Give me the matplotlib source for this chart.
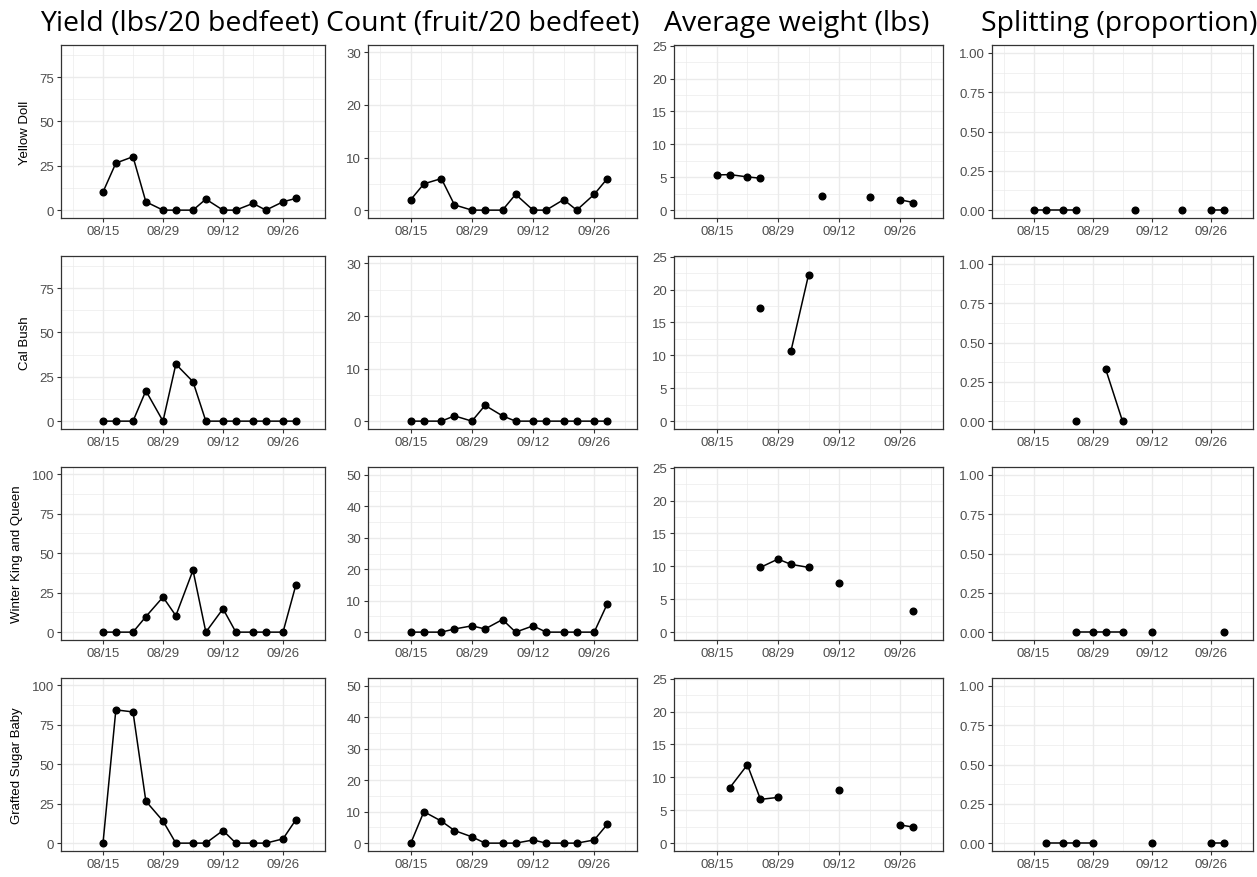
import numpy as np
import matplotlib
matplotlib.use('Agg')
import matplotlib.pyplot as plt
import matplotlib.dates as mdates
from datetime import datetime, timedelta

nan = np.nan

dates = ['2022-08-15', '2022-08-18', '2022-08-22', '2022-08-25', '2022-08-29', '2022-09-01', '2022-09-05',
         '2022-09-08', '2022-09-12', '2022-09-15', '2022-09-19', '2022-09-22', '2022-09-26', '2022-09-29']

varieties = ['Yellow Doll', 'Cal Bush', 'Winter King and Queen', 'Grafted Sugar Baby']
titles = ['Yield (lbs/20 bedfeet)', 'Count (fruit/20 bedfeet)', 'Average weight (lbs)', 'Splitting (proportion)']

# yield (lbs/20 bedfeet)
yield_yd = [10.2, 26.5, 30.1, 4.7, 0, 0, 0, 6.2, 0, 0, 3.8, 0, 4.7, 6.6]
yield_cb = [0, 0, 0, 17.1, 0, 32.1, 22.2, 0, 0, 0, 0, 0, 0, 0]
yield_wkq = [0, 0, 0, 9.8, 22.2, 10.4, 39.2, 0, 14.8, 0, 0, 0, 0, 29.8]
yield_gsb = [0, 84.4, 83.1, 26.6, 14.0, 0, 0, 0, 8.0, 0, 0, 0, 2.7, 14.8]

# count (fruit/20 bedfeet)
count_yd = [2, 5, 6, 1, 0, 0, 0, 3, 0, 0, 2, 0, 3, 6]
count_cb = [0, 0, 0, 1, 0, 3, 1, 0, 0, 0, 0, 0, 0, 0]
count_wkq = [0, 0, 0, 1, 2, 1, 4, 0, 2, 0, 0, 0, 0, 9]
count_gsb = [0, 10, 7, 4, 2, 0, 0, 0, 1, 0, 0, 0, 1, 6]

# average weight (lbs)
wt_yd = [5.35, 5.4, 5.05, 4.85, nan, nan, nan, 2.1, nan, nan, 1.97, nan, 1.57, 1.16]
wt_cb = [nan, nan, nan, 17.15, nan, 10.7, 22.2, nan, nan, nan, nan, nan, nan, nan]
wt_wkq = [nan, nan, nan, 9.84, 11.1, 10.3, 9.84, nan, 7.4, nan, nan, nan, nan, 3.25]
wt_gsb = [nan, 8.44, 11.9, 6.65, 6.95, nan, nan, nan, 8.15, nan, nan, nan, 2.75, 2.45]

# splitting (proportion)
split_yd = [0, 0, 0, 0, nan, nan, nan, 0, nan, nan, 0, nan, 0, 0]
split_cb = [nan, nan, nan, 0, nan, 0.333, 0, nan, nan, nan, nan, nan, nan, nan]
split_wkq = [nan, nan, nan, 0, 0, 0, 0, nan, 0, nan, nan, nan, nan, 0]
split_gsb = [nan, 0, 0, 0, 0, nan, nan, nan, 0, nan, nan, nan, 0, 0]

data = [
    [yield_yd, count_yd, wt_yd, split_yd],
    [yield_cb, count_cb, wt_cb, split_cb],
    [yield_wkq, count_wkq, wt_wkq, split_wkq],
    [yield_gsb, count_gsb, wt_gsb, split_gsb],
]

yticks = [
    [[0, 25, 50, 75], [0, 10, 20, 30], [0, 5, 10, 15, 20, 25], [0, 0.25, 0.5, 0.75, 1.0]],
    [[0, 25, 50, 75], [0, 10, 20, 30], [0, 5, 10, 15, 20, 25], [0, 0.25, 0.5, 0.75, 1.0]],
    [[0, 25, 50, 75, 100], [0, 10, 20, 30, 40, 50], [0, 5, 10, 15, 20, 25], [0, 0.25, 0.5, 0.75, 1.0]],
    [[0, 25, 50, 75, 100], [0, 10, 20, 30, 40, 50], [0, 5, 10, 15, 20, 25], [0, 0.25, 0.5, 0.75, 1.0]],
]
ytop = [[88.6, 29.9, 23.9, 1.0], [88.6, 29.9, 23.9, 1.0], [99.6, 50, 23.9, 1.0], [99.6, 50, 23.9, 1.0]]

x = [datetime.strptime(d, '%Y-%m-%d') for d in dates]
major = [datetime(2022, 8, 15), datetime(2022, 8, 29), datetime(2022, 9, 12), datetime(2022, 9, 26)]
minor = [datetime(2022, 8, 8), datetime(2022, 8, 22), datetime(2022, 9, 5), datetime(2022, 9, 19), datetime(2022, 10, 3)]
xlo = datetime(2022, 8, 8) - timedelta(days=2.8)
xhi = datetime(2022, 10, 3) + timedelta(days=2.8)

W, H = 1257, 878
fig = plt.figure(figsize=(W / 100, H / 100), dpi=100)

col_x = [(61, 325), (368, 637), (674, 943), (992, 1253)]
row_y = [(46, 219), (257, 430), (468, 641), (679, 852)]
title_x = [180, 483, 797, 1119]

plt.rcParams['font.family'] = ['Liberation Sans', 'DejaVu Sans']

for r in range(4):
    for c in range(4):
        x0, x1 = col_x[c]
        y0, y1 = row_y[r]
        ax = fig.add_axes([x0 / W, 1 - y1 / H, (x1 - x0) / W, (y1 - y0) / H])
        vals = np.array(data[r][c], dtype=float)
        ax.plot(x, vals, color='black', lw=1.1, marker='o', ms=4.8, zorder=3)
        yt = yticks[r][c]
        ax.set_yticks(yt)
        if c == 3:
            ax.set_yticklabels(['%.2f' % v for v in yt])
        # minor y grid halfway between majors
        step = yt[1] - yt[0]
        ax.set_yticks([v + step / 2 for v in yt], minor=True)
        top = ytop[r][c]
        ax.set_ylim(-0.05 * top, 1.05 * top)
        ax.set_xticks(major)
        ax.set_xticks(minor, minor=True)
        ax.set_xlim(xlo, xhi)
        ax.xaxis.set_major_formatter(mdates.DateFormatter('%m/%d'))
        ax.grid(which='major', color='#ebebeb', lw=1.0, zorder=0)
        ax.grid(which='minor', color='#ebebeb', lw=0.5, zorder=0)
        ax.set_axisbelow(True)
        for s in ax.spines.values():
            s.set_color('#333333')
            s.set_linewidth(0.9)
        ax.tick_params(which='major', length=3, width=0.8, color='#333333',
                       labelsize=9.5, labelcolor='#4d4d4d', pad=2)
        ax.tick_params(which='minor', length=0)
        if c == 0:
            ax.set_ylabel(varieties[r], fontsize=9.5, labelpad=6)

for c in range(4):
    fig.text(title_x[c] / W, 1 - 24 / H, titles[c], ha='center', va='center',
             fontsize=20.5, family=['Open Sans', 'DejaVu Sans'])

fig.savefig('out.png', dpi=100)
